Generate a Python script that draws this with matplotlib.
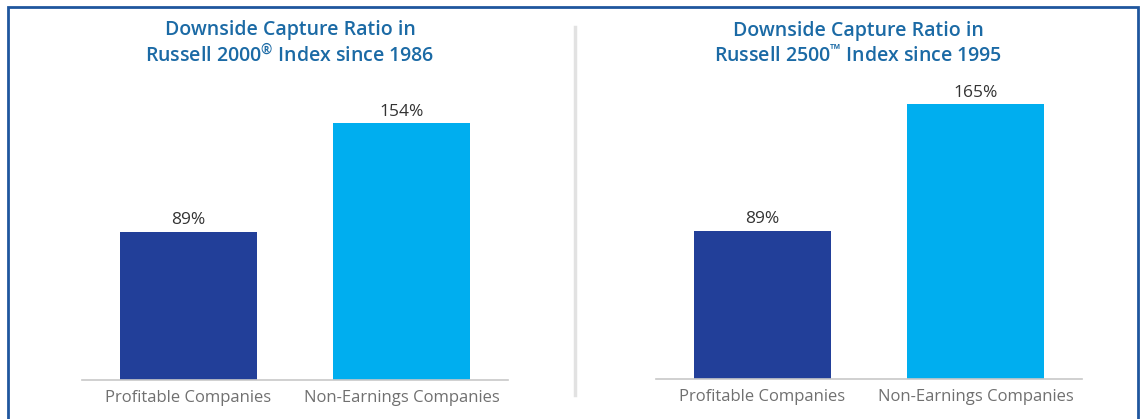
import matplotlib.pyplot as plt
from matplotlib.patches import Rectangle
from matplotlib.lines import Line2D

plt.rcParams['font.family'] = ['Open Sans', 'DejaVu Sans']
plt.rcParams['mathtext.fontset'] = 'custom'
plt.rcParams['mathtext.rm'] = 'Open Sans'
plt.rcParams['mathtext.default'] = 'regular'

# Data
categories = ['Profitable Companies', 'Non-Earnings Companies']
r2000_values = [89, 154]
r2500_values = [89, 165]
titles = ['Downside Capture Ratio in\nRussell 2000$^{\u00ae}$ Index since 1986',
          'Downside Capture Ratio in\nRussell 2500$^{\u2122}$ Index since 1995']
bar_colors = ['#223f99', '#00aeef']

W, H = 1140, 419
fig = plt.figure(figsize=(W / 100, H / 100), dpi=100)

# Outer blue frame and grey divider
fig.patches.append(Rectangle((8 / W, -0.2), 1130 / W, 1.2 - 7 / H, transform=fig.transFigure,
                             fill=False, edgecolor='#1f569e', linewidth=2.0))
fig.lines.append(Line2D([575 / W, 575 / W], [1 - 27 / H, 1 - 395 / H], transform=fig.transFigure,
                        color='#e2e2e2', linewidth=2.5))

panels = [
    (82, 380, r2000_values, titles[0], 290),
    (656, 379, r2500_values, titles[1], 858),
]

for left_px, base_px, values, title, title_x in panels:
    ax = fig.add_axes([left_px / W, (H - base_px) / H, 426 / W, 320 / H])
    x = range(len(categories))
    ax.bar(x, values, width=0.64, color=bar_colors)
    for xi, v in zip(x, values):
        ax.text(xi, v + 2, f'{v}%', ha='center', va='bottom', fontsize=12.5, color='#333333')
    ax.set_xlim(-0.5, 1.5)
    ax.set_ylim(0, 192)
    ax.set_xticks(list(x))
    ax.set_xticklabels(categories, fontsize=12, color='#707070')
    ax.tick_params(axis='x', length=0, pad=7)
    ax.set_yticks([])
    for s in ['top', 'left', 'right']:
        ax.spines[s].set_visible(False)
    ax.spines['bottom'].set_color('#c8c8c8')
    ax.spines['bottom'].set_linewidth(1.2)
    fig.text(title_x / W, 1 - 44 / H, title, ha='center', va='center', fontsize=14,
             fontweight='semibold', color='#1b6aa5', linespacing=1.2)

plt.savefig('out.png', dpi=100)
